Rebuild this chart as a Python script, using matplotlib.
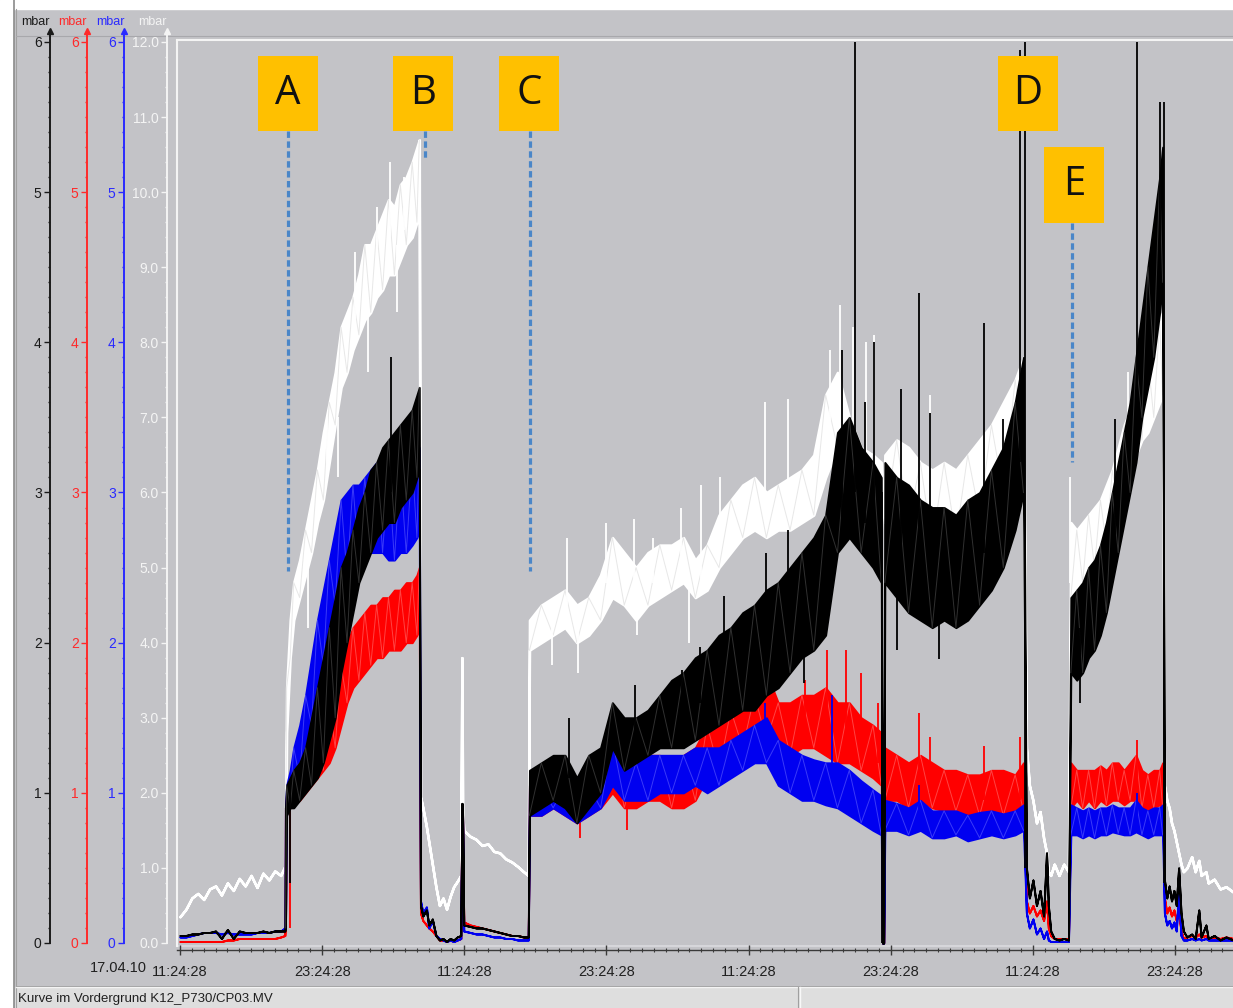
import matplotlib
matplotlib.use('Agg')
import matplotlib.pyplot as plt
from matplotlib.patches import Rectangle
from matplotlib.lines import Line2D
from matplotlib.ticker import MultipleLocator, FixedLocator

# ------------------------------------------------------------------
# data (hours since 17.04.10 11:24:28, mbar)
# black / red / blue use the 0..6 scale, white the 0..12 scale
# ------------------------------------------------------------------
tick_hours = [0, 12, 24, 36, 48, 60, 72, 84]
tick_labels = ['11:24:28', '23:24:28', '11:24:28', '23:24:28',
               '11:24:28', '23:24:28', '11:24:28', '23:24:28']
start_date = '17.04.10'

# quiet start
t_s0 = [0.0, 0.5, 1.0, 1.5, 2.0, 2.5, 3.0, 3.5, 4.0, 4.5, 5.0, 5.5, 6.0, 6.5,
        7.0, 7.5, 8.0, 8.5, 8.85]
white_s0 = [0.35, 0.45, 0.6, 0.66, 0.58, 0.72, 0.76, 0.64, 0.8, 0.7, 0.86,
            0.76, 0.9, 0.74, 0.93, 0.84, 0.96, 0.9, 1.02]
black_s0 = [0.05, 0.05, 0.06, 0.06, 0.07, 0.07, 0.08, 0.03, 0.09, 0.03, 0.08,
            0.07, 0.07, 0.07, 0.08, 0.07, 0.08, 0.08, 0.08]
red_s0 = [0.01, 0.01, 0.01, 0.01, 0.01, 0.01, 0.01, 0.01, 0.02, 0.02, 0.03,
          0.03, 0.03, 0.03, 0.03, 0.03, 0.03, 0.04, 0.05]
blue_s0 = [0.04, 0.04, 0.05, 0.06, 0.07, 0.07, 0.07, 0.06, 0.07, 0.06, 0.06,
           0.06, 0.06, 0.07, 0.07, 0.07, 0.08, 0.08, 0.1]

# first rise (A -> B)
t_s1 = [8.9, 9.0, 9.3, 9.6, 10.1, 10.6, 11.1, 11.6, 12.1, 12.6, 13.1, 13.6,
        14.1, 14.6, 15.1, 15.6, 16.1, 16.6, 17.1, 17.6, 18.1, 18.6, 19.1,
        19.6, 20.0, 20.2]
white_lo1 = [1.0, 2.8, 3.8, 4.3, 4.6, 4.9, 5.2, 5.6, 5.9, 6.4, 6.9, 7.4, 7.6,
             7.9, 8.1, 8.3, 8.4, 8.6, 8.7, 8.9, 8.9, 9.1, 9.3, 9.4, 9.6, 9.8]
white_hi1 = [1.6, 3.4, 4.3, 4.8, 5.1, 5.5, 5.9, 6.3, 6.8, 7.2, 7.6, 8.2, 8.4,
             8.6, 8.9, 9.3, 9.3, 9.5, 9.7, 9.9, 9.8, 10.1, 10.2, 10.4, 10.6,
             10.7]
black_lo1 = [0.1, 0.85, 0.9, 0.9, 0.95, 1.0, 1.05, 1.1, 1.2, 1.35, 1.5, 1.8,
             2.0, 2.2, 2.4, 2.5, 2.6, 2.7, 2.75, 2.8, 2.8, 2.9, 2.95, 3.0,
             3.1, 3.15]
black_hi1 = [0.9, 1.05, 1.1, 1.15, 1.2, 1.3, 1.5, 1.7, 1.9, 2.1, 2.3, 2.5,
             2.6, 2.75, 2.9, 3.0, 3.15, 3.2, 3.3, 3.35, 3.4, 3.45, 3.5, 3.55,
             3.65, 3.7]
red_lo1 = [0.1, 0.88, 0.9, 0.92, 0.95, 1.0, 1.05, 1.1, 1.15, 1.2, 1.3, 1.45,
           1.6, 1.7, 1.75, 1.8, 1.85, 1.9, 1.9, 1.95, 1.95, 1.95, 2.0, 2.0,
           2.05, 2.1]
red_hi1 = [0.9, 1.0, 1.02, 1.05, 1.1, 1.2, 1.35, 1.45, 1.55, 1.6, 1.7, 1.85,
           2.0, 2.1, 2.15, 2.2, 2.25, 2.25, 2.3, 2.3, 2.35, 2.35, 2.4, 2.4,
           2.45, 2.5]
blue_lo1 = [0.1, 0.88, 0.95, 1.0, 1.1, 1.25, 1.45, 1.65, 1.85, 2.05, 2.25,
            2.4, 2.45, 2.5, 2.55, 2.6, 2.6, 2.6, 2.6, 2.55, 2.55, 2.6, 2.6,
            2.65, 2.7, 2.75]
blue_hi1 = [0.9, 1.05, 1.15, 1.3, 1.45, 1.65, 1.9, 2.15, 2.35, 2.55, 2.75,
            2.95, 3.0, 3.05, 3.05, 3.1, 3.15, 3.2, 3.15, 3.15, 3.1, 3.15,
            3.15, 3.2, 3.25, 3.3]

# after B, short pulse, decay up to C
t_s2 = [20.3, 20.5, 20.8, 21.0, 21.3, 21.6, 21.9, 22.2, 22.5, 22.8, 23.1,
        23.4, 23.7, 23.8, 23.85]
white_s2 = [1.95, 1.8, 1.55, 1.35, 1.05, 0.75, 0.5, 0.6, 0.45, 0.62, 0.75,
            0.82, 0.9, 3.8, 1.8]
black_s2 = [0.25, 0.18, 0.22, 0.12, 0.16, 0.05, 0.02, 0.03, 0.01, 0.03, 0.02,
            0.04, 0.05, 0.93, 0.9]
red_s2 = [0.2, 0.15, 0.12, 0.1, 0.08, 0.05, 0.02, 0.02, 0.01, 0.02, 0.01,
          0.02, 0.03, 0.9, 0.85]
blue_s2 = [0.28, 0.2, 0.24, 0.1, 0.15, 0.05, 0.03, 0.02, 0.01, 0.02, 0.01,
           0.02, 0.03, 0.88, 0.85]

t_s3 = [23.95, 24.5, 25.0, 25.5, 26.0, 26.5, 27.0, 27.5, 28.0, 28.5, 29.0,
        29.4]
white_s3 = [1.5, 1.42, 1.38, 1.3, 1.32, 1.22, 1.2, 1.12, 1.08, 1.02, 0.95, 0.9]
black_s3 = [0.12, 0.11, 0.1, 0.1, 0.09, 0.08, 0.07, 0.06, 0.05, 0.05, 0.04,
            0.04]
red_s3 = [0.14, 0.12, 0.11, 0.1, 0.09, 0.08, 0.07, 0.06, 0.05, 0.05, 0.04,
          0.04]
blue_s3 = [0.08, 0.07, 0.06, 0.06, 0.05, 0.04, 0.04, 0.03, 0.03, 0.02, 0.02,
           0.02]

# long run C -> D
t_s4 = [29.5, 30.5, 31.5, 32.5, 33.5, 34.5, 35.5, 36.5, 37.5, 38.5, 39.5,
        40.5, 41.5, 42.5, 43.5, 44.5, 45.5, 46.5, 47.5, 48.5, 49.5, 50.5,
        51.5, 52.5, 53.5, 54.5, 55.5, 56.5, 57.5, 58.5, 59.2]
white_lo4 = [3.9, 4.0, 4.1, 4.2, 4.0, 4.1, 4.3, 4.6, 4.5, 4.3, 4.5, 4.6, 4.7,
             4.8, 4.6, 4.7, 5.0, 5.2, 5.4, 5.5, 5.4, 5.5, 5.5, 5.6, 5.7, 6.2,
             6.6, 6.0, 5.6, 5.5, 5.5]
white_hi4 = [4.3, 4.5, 4.6, 4.7, 4.5, 4.6, 4.9, 5.4, 5.2, 5.0, 5.2, 5.3, 5.3,
             5.4, 5.1, 5.3, 5.7, 5.9, 6.1, 6.2, 6.0, 6.1, 6.2, 6.3, 6.5, 7.3,
             7.6, 7.0, 6.6, 6.5, 6.4]
black_lo4 = [0.85, 0.9, 0.95, 0.9, 0.8, 0.9, 1.0, 1.3, 1.15, 1.2, 1.25,
             1.3, 1.3, 1.3, 1.35, 1.4, 1.45, 1.5, 1.55, 1.55, 1.65, 1.7, 1.8,
             1.9, 1.95, 2.05, 2.6, 2.7, 2.6, 2.5, 2.4]
black_hi4 = [1.15, 1.2, 1.25, 1.25, 1.1, 1.25, 1.3, 1.6, 1.5, 1.5, 1.55, 1.65,
             1.75, 1.8, 1.9, 1.95, 2.05, 2.1, 2.2, 2.25, 2.35, 2.4, 2.5, 2.6,
             2.7, 2.85, 3.4, 3.5, 3.3, 3.2, 3.1]
red_lo4 = [0.85, 0.85, 0.9, 0.85, 0.8, 0.85, 0.9, 1.0, 0.9, 0.9, 0.95, 0.95,
           0.9, 0.9, 0.95, 1.1, 1.15, 1.2, 1.3, 1.3, 1.35, 1.25, 1.25, 1.3,
           1.3, 1.25, 1.2, 1.2, 1.15, 1.1, 1.05]
red_hi4 = [1.05, 1.05, 1.1, 1.05, 1.0, 1.05, 1.1, 1.35, 1.2, 1.2, 1.25, 1.25,
           1.2, 1.25, 1.3, 1.45, 1.5, 1.55, 1.6, 1.65, 1.8, 1.6, 1.6, 1.65,
           1.65, 1.7, 1.6, 1.6, 1.5, 1.45, 1.4]
blue_lo4 = [0.85, 0.85, 0.9, 0.85, 0.8, 0.85, 0.9, 1.05, 0.95, 0.95, 0.95,
            1.0, 1.0, 1.0, 1.05, 1.0, 1.05, 1.1, 1.15, 1.2, 1.2, 1.05, 1.0,
            0.95, 0.95, 0.92, 0.9, 0.85, 0.8, 0.75, 0.72]
blue_hi4 = [1.05, 1.05, 1.1, 1.05, 1.0, 1.05, 1.15, 1.35, 1.2, 1.2, 1.25,
            1.25, 1.25, 1.25, 1.3, 1.3, 1.3, 1.35, 1.4, 1.45, 1.5, 1.35, 1.3,
            1.25, 1.22, 1.2, 1.2, 1.15, 1.08, 1.02, 0.98]

# short dropout
t_dip = [59.3, 59.4]
white_dip = [5.8, 5.8]
black_dip = [0.0, 0.0]
red_dip = [0.0, 0.0]
blue_dip = [0.0, 0.0]

t_s5 = [59.5, 60.5, 61.5, 62.5, 63.5, 64.5, 65.5, 66.5, 67.5, 68.5, 69.5,
        70.5, 71.2]
white_lo5 = [5.6, 5.7, 5.6, 5.4, 5.3, 5.5, 5.4, 5.5, 5.7, 5.8, 6.0, 6.4, 6.7]
white_hi5 = [6.5, 6.7, 6.6, 6.4, 6.3, 6.4, 6.3, 6.5, 6.7, 6.9, 7.2, 7.5, 7.8]
black_lo5 = [2.4, 2.3, 2.2, 2.15, 2.1, 2.15, 2.1, 2.15, 2.25, 2.35, 2.5,
             2.75, 3.0]
black_hi5 = [3.2, 3.1, 3.05, 2.95, 2.9, 2.9, 2.85, 2.95, 3.0, 3.15, 3.3, 3.6,
             3.9]
red_lo5 = [0.95, 0.95, 0.9, 0.95, 0.9, 0.88, 0.88, 0.85, 0.85, 0.88, 0.85,
           0.85, 0.88]
red_hi5 = [1.3, 1.25, 1.2, 1.25, 1.2, 1.15, 1.15, 1.12, 1.12, 1.15, 1.15,
           1.12, 1.2]
blue_lo5 = [0.75, 0.75, 0.72, 0.75, 0.7, 0.7, 0.72, 0.68, 0.7, 0.72, 0.7,
            0.72, 0.75]
blue_hi5 = [0.95, 0.93, 0.9, 0.95, 0.88, 0.88, 0.88, 0.85, 0.87, 0.88, 0.86,
            0.88, 0.92]

# D -> E
t_s6 = [71.45, 71.7, 72.0, 72.3, 72.6, 72.9, 73.15, 73.3, 73.5, 73.8, 74.2,
        74.6, 75.0]
white_s6 = [2.6, 2.1, 1.9, 1.6, 1.75, 1.4, 1.2, 0.95, 0.9, 1.05, 0.9, 1.05,
            0.95]
black_s6 = [0.5, 0.3, 0.42, 0.25, 0.35, 0.18, 0.6, 0.25, 0.08, 0.03, 0.02,
            0.03, 0.02]
red_s6 = [0.28, 0.2, 0.25, 0.18, 0.22, 0.15, 0.28, 0.1, 0.05, 0.03, 0.03,
          0.03, 0.03]
blue_s6 = [0.2, 0.1, 0.16, 0.06, 0.1, 0.03, 0.08, 0.02, 0.01, 0.01, 0.01,
           0.01, 0.01]

# after E
t_s7 = [75.2, 75.7, 76.2, 76.7, 77.2, 77.7, 78.2, 78.7, 79.2, 79.7, 80.2,
        80.7, 81.2, 81.7, 82.2, 82.7, 82.95]
white_lo7 = [4.6, 4.7, 4.8, 4.9, 5.0, 5.1, 5.3, 5.5, 5.8, 6.1, 6.3, 6.5, 6.7,
             6.8, 7.0, 7.2, 7.3]
white_hi7 = [5.6, 5.5, 5.6, 5.7, 5.8, 5.9, 6.1, 6.3, 6.6, 6.9, 7.1, 7.4, 7.6,
             7.8, 8.0, 8.3, 8.4]
black_lo7 = [1.8, 1.75, 1.8, 1.9, 1.95, 2.05, 2.2, 2.4, 2.6, 2.8, 3.0, 3.2,
             3.5, 3.7, 3.9, 4.2, 4.4]
black_hi7 = [2.3, 2.35, 2.4, 2.5, 2.55, 2.65, 2.8, 3.0, 3.2, 3.4, 3.6, 3.9,
             4.2, 4.5, 4.8, 5.1, 5.3]
red_lo7 = [0.9, 0.95, 0.9, 0.95, 0.9, 0.95, 0.92, 0.95, 0.95, 0.92, 0.95,
           0.95, 0.9, 0.88, 0.9, 0.92, 0.9]
red_hi7 = [1.2, 1.15, 1.15, 1.15, 1.15, 1.18, 1.15, 1.2, 1.2, 1.15, 1.2,
           1.25, 1.15, 1.12, 1.15, 1.15, 1.2]
blue_lo7 = [0.72, 0.72, 0.7, 0.72, 0.7, 0.72, 0.72, 0.74, 0.73, 0.72, 0.72,
            0.74, 0.72, 0.7, 0.72, 0.72, 0.72]
blue_hi7 = [0.92, 0.9, 0.88, 0.9, 0.88, 0.9, 0.9, 0.92, 0.9, 0.9, 0.9, 0.95,
            0.9, 0.88, 0.9, 0.9, 0.92]

t_s8 = [83.1, 83.3, 83.5, 83.7, 83.9, 84.1, 84.3, 84.5, 84.7, 85.0, 85.4,
        85.7, 86.0, 86.2, 86.6, 86.8, 87.3, 87.8, 88.3, 88.9]
white_s8 = [2.1, 1.9, 1.8, 1.6, 1.5, 1.35, 1.2, 1.05, 0.95, 1.0, 1.15, 0.95,
            1.1, 0.9, 0.95, 0.8, 0.85, 0.72, 0.75, 0.68]
black_s8 = [0.42, 0.3, 0.38, 0.28, 0.35, 0.25, 0.5, 0.2, 0.08, 0.04, 0.06,
            0.03, 0.22, 0.04, 0.12, 0.03, 0.05, 0.02, 0.04, 0.02]
red_s8 = [0.3, 0.2, 0.24, 0.18, 0.22, 0.15, 0.2, 0.08, 0.03, 0.04, 0.05,
          0.04, 0.06, 0.04, 0.05, 0.03, 0.04, 0.03, 0.04, 0.03]
blue_s8 = [0.2, 0.12, 0.15, 0.1, 0.14, 0.08, 0.35, 0.05, 0.02, 0.02, 0.03,
           0.02, 0.03, 0.02, 0.03, 0.02, 0.02, 0.02, 0.02, 0.02]

# single spikes (hour, low, high)
white_spk_t = [10.8, 12.4, 13.3, 14.8, 15.9, 16.6, 17.7, 18.3, 18.9, 31.4,
               32.7, 33.6, 36.0, 38.3, 38.6, 39.9, 42.3, 43.0, 44.0, 45.6,
               49.4, 51.3, 54.9, 55.7, 56.8, 57.9, 58.6, 63.3, 75.15, 80.0,
               81.5]
white_spk_lo = [4.2, 6.3, 6.2, 8.0, 7.6, 8.8, 9.2, 8.4, 9.5, 3.7, 4.3, 3.6,
                4.8, 4.6, 4.1, 4.8, 5.0, 4.0, 4.8, 5.3, 5.6, 5.8, 6.5, 7.0,
                6.5, 6.0, 5.8, 5.8, 4.8, 6.6, 7.2]
white_spk_hi = [5.0, 7.0, 7.0, 9.2, 8.6, 9.8, 10.4, 9.3, 10.2, 4.3, 5.4, 4.3,
                5.6, 5.65, 4.6, 5.4, 5.8, 4.7, 6.1, 6.2, 7.2, 7.25, 7.9, 8.5,
                8.2, 8.0, 8.1, 7.3, 6.2, 7.6, 8.2]
black_spk_t = [9.3, 17.8, 32.8, 38.4, 42.4, 43.9, 45.9, 49.5, 51.3, 52.7,
               55.9, 57.0, 57.8, 58.6, 59.25, 60.5, 60.9, 62.4, 63.3, 64.1,
               67.9, 69.5, 70.9, 71.35, 76.0, 78.9, 80.8, 82.7, 83.05]
black_spk_lo = [0.4, 3.0, 1.1, 1.3, 1.5, 1.6, 1.8, 2.0, 2.2, 1.73, 2.8, 3.0,
                2.8, 2.8, 0.0, 1.95, 2.6, 2.6, 2.5, 1.89, 2.6, 2.8, 3.2, 0.5,
                1.6, 2.6, 3.3, 4.5, 0.4]
black_spk_hi = [1.0, 3.9, 1.5, 1.72, 1.82, 1.97, 2.31, 2.6, 2.75, 2.2, 3.95,
                6.0, 3.6, 4.0, 3.0, 2.5, 3.69, 4.33, 3.53, 2.4, 4.13, 3.49,
                5.95, 6.0, 2.1, 3.49, 6.0, 5.6, 5.6]
red_spk_t = [9.3, 33.8, 37.7, 49.3, 52.8, 54.6, 56.2, 57.5, 58.9, 62.4, 63.3,
             67.9, 70.9, 80.8]
red_spk_lo = [0.1, 0.7, 0.75, 1.4, 1.3, 1.3, 1.3, 1.2, 1.2, 1.0, 1.0, 0.95,
              0.95, 1.0]
red_spk_hi = [0.95, 1.0, 1.1, 1.85, 1.75, 1.95, 1.95, 1.8, 1.6, 1.53, 1.37,
              1.31, 1.37, 1.35]
blue_spk_t = [49.4, 55.0, 62.4, 80.8]
blue_spk_lo = [1.3, 1.1, 0.8, 0.8]
blue_spk_hi = [1.6, 1.65, 1.05, 1.0]

# event markers
marker_names = ['A', 'B', 'C', 'D', 'E']
marker_hours = [9.1, 20.5, 29.5, 71.6, 75.5]
marker_tops = [5.91, 5.91, 5.91, 5.91, 5.30]
guide_hours = [9.11, 20.68, 29.54, None, 75.27]
guide_ends = [2.48, 5.23, 2.48, None, 3.2]

# ------------------------------------------------------------------
W, H = 1233, 1008
BG = '#c3c3c7'
FONT = 'Liberation Sans'


def box(l, t, r, b):
    return [l / W, 1 - b / H, (r - l) / W, (b - t) / H]


def fy(y):
    return 1 - y / H


fig = plt.figure(figsize=(W / 100, H / 100), dpi=100, facecolor=BG)

# window chrome
fig.patches.append(Rectangle((0, fy(9)), 1, 9 / H, transform=fig.transFigure,
                             color='white', zorder=0))
fig.patches.append(Rectangle((0, 0), 13 / W, 1, transform=fig.transFigure,
                             color='white', zorder=0))
fig.patches.append(Rectangle((15 / W, 0), 1, (H - 987) / H,
                             transform=fig.transFigure, color='#dedede',
                             zorder=0))
for x0, x1, y0, y1, c, lw in [
        (14, 14, 0, H, '#8a8a8a', 1.2), (16, 16, 9, H, '#a0a0a0', 0.8),
        (16, W, 36, 36, '#a8a8ac', 0.8), (16, W, 987, 987, '#f4f4f4', 1.0),
        (16, W, 986, 986, '#a0a0a0', 0.6), (798, 798, 987, H, '#a0a0a0', 0.8),
        (800, 800, 987, H, '#f8f8f8', 1.0), (177, W, 946, 946, '#dadade', 1.2)]:
    fig.add_artist(Line2D([x0 / W, x1 / W], [fy(y0), fy(y1)],
                          transform=fig.transFigure, color=c, lw=lw))

fig.text(18 / W, fy(999), 'Kurve im Vordergrund K12_P730/CP03.MV',
         fontsize=9.5, family=FONT, color='#202020', va='center')

# white series lives on its own 0..12 scale, drawn underneath
plot_box = box(177, 40, W, 946)
XLIM = (-0.253, 88.89)
YLIM = (-0.02, 6.0133)
YLIM_W = (-0.04, 12.0266)

axw = fig.add_axes(plot_box, zorder=1)
axw.set_facecolor(BG)
axw.set_xlim(*XLIM)
axw.set_ylim(*YLIM_W)
axw.axis('off')

ax = fig.add_axes(plot_box, zorder=2)
ax.set_facecolor('none')
ax.set_xlim(*XLIM)
ax.set_ylim(*YLIM)


def draw_series(a, parts, color, shade, spk_t, spk_lo, spk_hi, z, lw):
    t, lo, hi = [], [], []
    for p in parts:
        t += p[0]
        lo += p[1]
        hi += p[2] if len(p) > 2 else p[1]
    a.fill_between(t, lo, hi, facecolor=color, edgecolor=color, lw=lw,
                   zorder=z)
    # zig-zag through the band envelope hints at the noisy texture
    for p in parts:
        if len(p) > 2:
            zig = [p[1][i] if i % 2 == 0 else p[2][i] for i in range(len(p[0]))]
            a.plot(p[0], zig, color=shade, lw=0.7, alpha=0.6, zorder=z)
    a.vlines(spk_t, spk_lo, spk_hi, color=color, lw=1.3, zorder=z)


draw_series(axw, [(t_s0, white_s0), (t_s1, white_lo1, white_hi1),
                  (t_s2, white_s2), (t_s3, white_s3),
                  (t_s4, white_lo4, white_hi4), (t_dip, white_dip),
                  (t_s5, white_lo5, white_hi5), (t_s6, white_s6),
                  (t_s7, white_lo7, white_hi7), (t_s8, white_s8)],
            '#ffffff', '#d8d8d8', white_spk_t, white_spk_lo, white_spk_hi,
            2, 1.8)
draw_series(ax, [(t_s0, red_s0), (t_s1, red_lo1, red_hi1), (t_s2, red_s2),
                 (t_s3, red_s3), (t_s4, red_lo4, red_hi4), (t_dip, red_dip),
                 (t_s5, red_lo5, red_hi5), (t_s6, red_s6),
                 (t_s7, red_lo7, red_hi7), (t_s8, red_s8)],
            '#ff0000', '#ff7070', red_spk_t, red_spk_lo, red_spk_hi, 2, 1.4)
draw_series(ax, [(t_s0, blue_s0), (t_s1, blue_lo1, blue_hi1), (t_s2, blue_s2),
                 (t_s3, blue_s3), (t_s4, blue_lo4, blue_hi4), (t_dip, blue_dip),
                 (t_s5, blue_lo5, blue_hi5), (t_s6, blue_s6),
                 (t_s7, blue_lo7, blue_hi7), (t_s8, blue_s8)],
            '#0000f0', '#6060ff', blue_spk_t, blue_spk_lo, blue_spk_hi, 3, 1.4)
draw_series(ax, [(t_s0, black_s0), (t_s1, black_lo1, black_hi1),
                 (t_s2, black_s2), (t_s3, black_s3),
                 (t_s4, black_lo4, black_hi4), (t_dip, black_dip),
                 (t_s5, black_lo5, black_hi5), (t_s6, black_s6),
                 (t_s7, black_lo7, black_hi7), (t_s8, black_s8)],
            '#000000', '#505050', black_spk_t, black_spk_lo, black_spk_hi,
            4, 1.4)

# frame and time axis
ax.spines['right'].set_visible(False)
ax.spines['left'].set_color('#f4f4f4')
ax.spines['top'].set_color('#f4f4f4')
ax.spines['left'].set_linewidth(1.5)
ax.spines['top'].set_linewidth(1.5)
ax.spines['bottom'].set_position(('outward', 3))
ax.spines['bottom'].set_color('#3a3a3a')
ax.spines['bottom'].set_linewidth(1.0)
ax.yaxis.set_visible(False)
ax.xaxis.set_major_locator(FixedLocator(tick_hours))
ax.xaxis.set_minor_locator(MultipleLocator(1))
ax.set_xticklabels(tick_labels, family=FONT, fontsize=10.5, color='#202020')
ax.tick_params(axis='x', which='major', direction='inout', length=7,
               width=1, color='#3a3a3a', pad=7)
ax.tick_params(axis='x', which='minor', direction='inout', length=3,
               width=0.8, color='#3a3a3a')
fig.text(147 / W, fy(968), start_date, family=FONT, fontsize=10.5,
         color='#202020', ha='right', va='center')

# event markers
box_w, box_h = 5.06, 0.506
for name, xh, top, gx, gend in zip(marker_names, marker_hours, marker_tops,
                                   guide_hours, guide_ends):
    if gx is not None:
        ax.plot([gx, gx], [top - box_h, gend], color='#4a86c8', lw=2.3,
                ls=(0, (2.0, 1.1)), zorder=8, solid_capstyle='butt')
    ax.add_patch(Rectangle((xh - box_w / 2, top - box_h), box_w, box_h,
                           facecolor='#ffc000', edgecolor='none', zorder=9))
    ax.text(xh, top - box_h / 2, name, family='Open Sans', fontsize=29,
            ha='center', va='center', color='#111111', zorder=10)

# the four value scales on the left
scales = [(50, '#1a1a1a', YLIM, 6, 1, 0.1, '%d'),
          (87, '#ff2a2a', YLIM, 6, 1, 0.1, '%d'),
          (124, '#2a2aff', YLIM, 6, 1, 0.1, '%d'),
          (167, '#f4f4f4', YLIM_W, 12, 1, 0.2, '%.1f')]
unit_x = [35, 72, 110, 152]
for (xs, col, lim, top, major, minor, fmt), ux in zip(scales, unit_x):
    sa = fig.add_axes(box(xs, 40, xs + 8, 946), zorder=3)
    sa.set_facecolor('none')
    sa.set_ylim(*lim)
    sa.set_xlim(0, 1)
    for s in ('right', 'top', 'bottom'):
        sa.spines[s].set_visible(False)
    sa.spines['left'].set_color(col)
    sa.spines['left'].set_linewidth(1.4)
    sa.spines['left'].set_bounds(0, top * 1.012)
    sa.xaxis.set_visible(False)
    sa.yaxis.set_major_locator(MultipleLocator(major))
    sa.yaxis.set_minor_locator(MultipleLocator(minor))
    sa.set_yticks(range(0, top + 1, major))
    sa.set_yticklabels([fmt % v for v in range(0, top + 1, major)],
                       family=FONT, fontsize=10, color=col)
    sa.tick_params(axis='y', which='major', length=4, width=1, color=col,
                   pad=2)
    sa.tick_params(axis='y', which='minor', length=1.5, width=1, color=col)
    sa.plot([0], [top * 1.012], marker='^', ms=4, color=col, clip_on=False)
    fig.text(ux / W, fy(22), 'mbar', family=FONT, fontsize=9, color=col,
             ha='center', va='center')

fig.savefig('out.png', dpi=100, facecolor=BG)
